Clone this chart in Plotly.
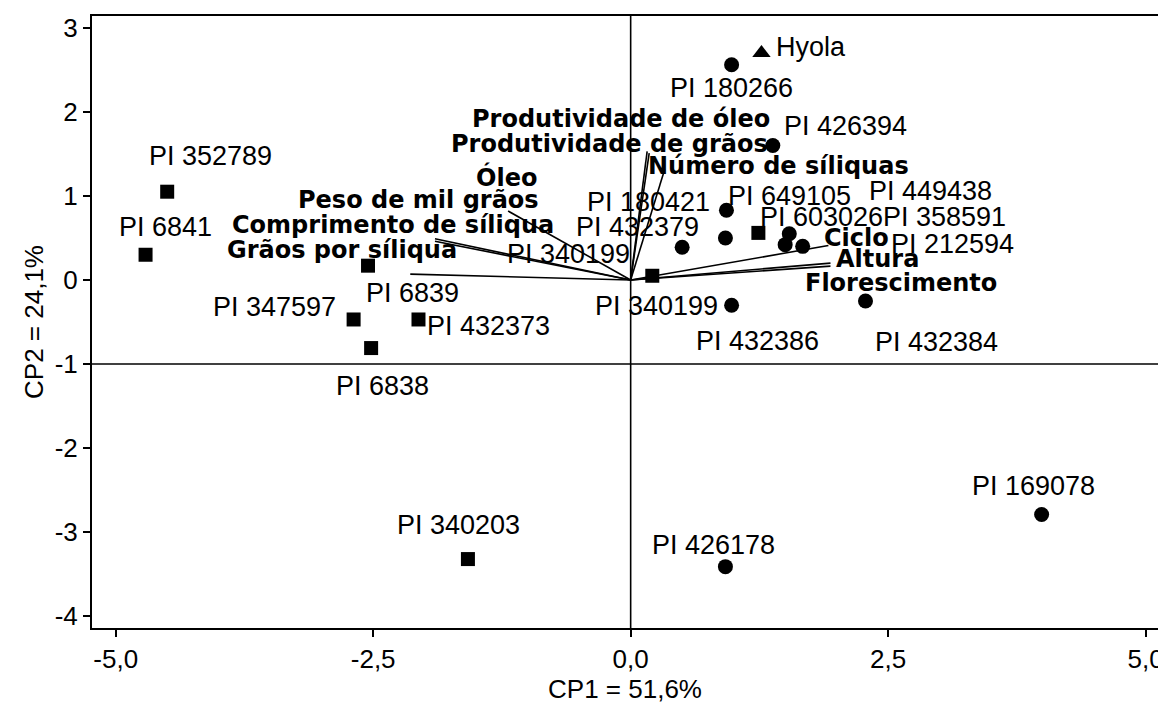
import plotly.graph_objects as go

# ---------------- data ----------------
sq_names = ["PI 352789", "PI 6841", "PI 6839", "PI 347597", "PI 432373",
            "PI 6838", "PI 340203", "PI 603026", "PI 340199"]
sq_x = [-4.50, -4.71, -2.55, -2.69, -2.06, -2.52, -1.58, 1.24, 0.21]
sq_y = [1.05, 0.30, 0.17, -0.47, -0.47, -0.81, -3.32, 0.56, 0.05]

ci_names = ["PI 180266", "PI 426394", "PI 649105", "PI 180421", "PI 432379",
            "PI 449438", "PI 358591", "PI 212594", "PI 432386", "PI 432384",
            "PI 426178", "PI 169078"]
ci_x = [0.98, 1.38, 0.93, 0.92, 0.50, 1.54, 1.50, 1.67, 0.98, 2.28, 0.92, 3.99]
ci_y = [2.56, 1.60, 0.83, 0.50, 0.39, 0.55, 0.42, 0.40, -0.30, -0.25, -3.41, -2.79]

tri_names = ["Hyola"]
tri_x = [1.27]
tri_y = [2.70]

extra_label_text = ["PI 340199"]

var_names = ["Produtividade de óleo", "Produtividade de grãos", "Número de síliquas",
             "Óleo", "Peso de mil grãos", "Comprimento de síliqua", "Grãos por síliqua",
             "Ciclo", "Altura", "Florescimento"]
var_x = [0.16, 0.18, 0.33, -1.19, -1.90, -1.90, -2.14, 1.92, 1.94, 1.94]
var_y = [1.53, 1.51, 1.315, 0.82, 0.49, 0.46, 0.07, 0.41, 0.20, 0.165]

x_tickvals = [-5.0, -2.5, 0.0, 2.5, 5.0]
x_ticktext = ["-5,0", "-2,5", "0,0", "2,5", "5,0"]
y_tickvals = [3, 2, 1, 0, -1, -2, -3, -4]
y_ticktext = ["3", "2", "1", "0", "-1", "-2", "-3", "-4"]
x_title = "CP1 = 51,6%"
y_title = "CP2 = 24,1%"
ref_x = 0.0
ref_y = -1.0

# ---------------- style ----------------
FONT = "Liberation Sans, Arial, sans-serif"
BOLD = "DejaVu Sans, Verdana, sans-serif"
# label offsets in pixels (dx right, dy down) from the marker centre
sq_off = [(43, -36), (20, -28), (44, 27), (-79, -12), (70, 7), (11, 38),
          (-9, -34), (63, -16), (4, 30)]
ci_off = [(0, 23), (73, -19), (63, -14), (-77, -36), (-45, -20), (141, -43),
          (159, -28), (150, -2), (26, 36), (71, 41), (-12, -22), (-8, -29)]
tri_off = [(50, -6)]
extra_anchor = [8]          # index in squares
extra_off = [(-84, -22)]
var_off = [(-26, -32), (-40, -9), (114, -3), (-2, -34), (-16, -39), (-42, -16),
           (-68, -24), (28, -8), (47, -4), (71, 17)]

fig = go.Figure()

# vectors
vx, vy = [], []
for x, y in zip(var_x, var_y):
    vx += [0, x, None]
    vy += [0, y, None]
fig.add_trace(go.Scatter(x=vx, y=vy, mode="lines",
                         line=dict(color="black", width=1.6),
                         hoverinfo="skip", showlegend=False))

fig.add_trace(go.Scatter(x=sq_x, y=sq_y, mode="markers", text=sq_names,
                         marker=dict(symbol="square", size=14, color="black"),
                         showlegend=False))
fig.add_trace(go.Scatter(x=ci_x, y=ci_y, mode="markers", text=ci_names,
                         marker=dict(symbol="circle", size=15, color="black"),
                         showlegend=False))
fig.add_trace(go.Scatter(x=tri_x, y=tri_y, mode="markers", text=tri_names,
                         marker=dict(symbol="triangle-up", size=16, color="black"),
                         showlegend=False))

ann = []


def add_label(x, y, text, off, font):
    ann.append(dict(x=x, y=y, xref="x", yref="y", text=text, showarrow=False,
                    xanchor="center", yanchor="middle",
                    xshift=off[0], yshift=-off[1], font=font))


pt_font = dict(family=FONT, size=27, color="black")
for n, x, y, o in zip(sq_names, sq_x, sq_y, sq_off):
    add_label(x, y, n, o, pt_font)
for n, x, y, o in zip(ci_names, ci_x, ci_y, ci_off):
    add_label(x, y, n, o, pt_font)
for n, x, y, o in zip(tri_names, tri_x, tri_y, tri_off):
    add_label(x, y, n, o, pt_font)
for t, i, o in zip(extra_label_text, extra_anchor, extra_off):
    add_label(sq_x[i], sq_y[i], t, o, pt_font)

var_font = dict(family=BOLD, size=24, color="black", weight="bold")
for n, x, y, o in zip(var_names, var_x, var_y, var_off):
    add_label(x, y, "<b>" + n + "</b>", o, var_font)

# the page body adds an 8 px margin, so the figure is 8 px smaller than the window
fig.update_layout(
    width=1158, height=699,
    margin=dict(l=84, r=8, t=8, b=79),
    paper_bgcolor="white", plot_bgcolor="white",
    annotations=ann,
    shapes=[
        dict(type="line", xref="x", yref="paper", x0=ref_x, x1=ref_x, y0=0, y1=1,
             line=dict(color="black", width=1.6), layer="below"),
        dict(type="line", xref="paper", yref="y", x0=0, x1=1, y0=ref_y, y1=ref_y,
             line=dict(color="black", width=1.6), layer="below"),
    ],
    font=dict(family=FONT, size=26, color="black"),
)
fig.update_xaxes(range=[-5.23, 5.12], tickvals=x_tickvals, ticktext=x_ticktext,
                 automargin=False,
                 showgrid=False, zeroline=False, showline=True, mirror=True,
                 linecolor="black", linewidth=2, ticks="outside", ticklen=7,
                 tickwidth=2, tickcolor="black",
                 tickfont=dict(family=FONT, size=26),
                 title=dict(text=x_title, font=dict(family=FONT, size=26), standoff=4))
fig.update_yaxes(range=[-4.14, 3.14], tickvals=y_tickvals, ticktext=y_ticktext,
                 automargin=False,
                 showgrid=False, zeroline=False, showline=True, mirror=True,
                 linecolor="black", linewidth=2, ticks="outside", ticklen=7,
                 tickwidth=2, tickcolor="black",
                 tickfont=dict(family=FONT, size=26),
                 title=dict(text=y_title, font=dict(family=FONT, size=26), standoff=4))

fig.write_html("out.html")
